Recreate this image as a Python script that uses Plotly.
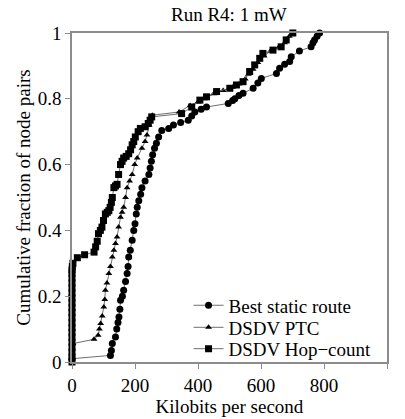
import plotly.graph_objects as go

# Best static route (circles)
static_x = [0, 122, 125, 128, 138, 142, 146, 149, 152, 154, 160, 164, 170, 175, 178, 180,
            185, 191, 196, 200, 204, 207, 212, 218, 222, 232, 244, 248, 252, 256, 262, 268,
            275, 285, 307, 322, 345, 369, 380, 390, 410, 427, 496, 510, 517, 530, 543, 575,
            590, 601, 649, 659, 675, 691, 696, 722, 759, 765, 770, 778, 786]
static_y = [0.01, 0.02, 0.035, 0.056, 0.076, 0.10, 0.12, 0.137, 0.16, 0.188, 0.20, 0.218,
            0.245, 0.269, 0.29, 0.319, 0.34, 0.37, 0.40, 0.42, 0.45, 0.47, 0.49, 0.51, 0.53,
            0.55, 0.57, 0.59, 0.61, 0.63, 0.65, 0.665, 0.684, 0.704, 0.71, 0.72, 0.728, 0.735,
            0.748, 0.76, 0.768, 0.775, 0.786, 0.795, 0.80, 0.81, 0.817, 0.832, 0.848, 0.862,
            0.877, 0.893, 0.905, 0.913, 0.928, 0.945, 0.958, 0.97, 0.979, 0.99, 1.0]

# DSDV PTC (triangles)
ptc_x = [0, 0, 3, 70, 83, 87, 91, 96, 101, 104, 106, 111, 117, 122, 128, 133, 138, 143,
         148, 154, 159, 164, 170, 175, 183, 191, 199, 207, 222, 232, 238, 245, 250, 255,
         340, 375, 400, 420, 450, 480, 510, 530, 550, 560, 575, 590, 610, 630, 655, 675, 690]
ptc_y = [0.02, 0.04, 0.056, 0.069, 0.081, 0.10, 0.117, 0.14, 0.167, 0.19, 0.218, 0.24,
         0.269, 0.29, 0.319, 0.34, 0.36, 0.38, 0.41, 0.44, 0.455, 0.47, 0.50, 0.53, 0.55,
         0.57, 0.60, 0.62, 0.65, 0.67, 0.69, 0.72, 0.74, 0.75, 0.76, 0.78, 0.79, 0.80,
         0.815, 0.825, 0.835, 0.845, 0.86, 0.875, 0.89, 0.91, 0.93, 0.945, 0.955, 0.97, 0.99]

# DSDV Hop-count (squares)
hop_x = [0, 0, 0, 0, 0, 0, 0, 0, 0, 0, 0, 0, 0, 0, 0, 0, 0, 0, 0, 0, 1, 3,
         17, 40, 70, 75, 80, 84, 90, 95, 100, 106, 112, 117, 121, 125, 128, 133, 138, 143,
         148, 154, 159, 164, 172, 180, 186, 191, 196, 201, 210, 217, 232, 242, 248, 253,
         348, 380, 406, 427, 459, 501, 522, 543, 564, 580, 596, 606, 638, 664, 680, 701]
hop_y = [0.0, 0.015, 0.03, 0.045, 0.06, 0.075, 0.09, 0.105, 0.12, 0.135, 0.15, 0.165,
         0.18, 0.195, 0.21, 0.225, 0.24, 0.255, 0.27, 0.28, 0.29, 0.30,
         0.317, 0.326, 0.334, 0.35, 0.367, 0.39, 0.40, 0.41, 0.43, 0.45, 0.455, 0.46, 0.47,
         0.485, 0.50, 0.53, 0.535, 0.54, 0.57, 0.60, 0.61, 0.62, 0.625, 0.633, 0.645, 0.66,
         0.67, 0.684, 0.70, 0.71, 0.715, 0.725, 0.735, 0.745, 0.755, 0.775, 0.796, 0.806,
         0.822, 0.832, 0.842, 0.852, 0.883, 0.903, 0.923, 0.938, 0.948, 0.958, 0.979, 1.0]

x_ticks = [0, 200, 400, 600, 800, 1000]
y_ticks = [0, 0.2, 0.4, 0.6, 0.8, 1]
y_labels = ["0", "0.2", "0.4", "0.6", "0.8", "1"]

FONT = "Liberation Serif, Times New Roman, serif"
LINE = dict(color="#6e6e6e", width=1)
FS = 19

fig = go.Figure()
fig.add_trace(go.Scatter(x=static_x, y=static_y, name="Best static route", mode="lines+markers",
                         line=LINE, marker=dict(symbol="circle", size=7, color="black"),
                         cliponaxis=False, legend="legend", showlegend=True))
fig.add_trace(go.Scatter(x=ptc_x, y=ptc_y, name="DSDV PTC", mode="lines+markers",
                         line=LINE, marker=dict(symbol="triangle-up", size=6, color="black"),
                         cliponaxis=False, legend="legend2", showlegend=True))
fig.add_trace(go.Scatter(x=hop_x, y=hop_y, name="DSDV Hop\u2212count", mode="lines+markers",
                         line=LINE, marker=dict(symbol="square", size=7, color="black"),
                         cliponaxis=False, legend="legend3", showlegend=True))

axis_common = dict(showgrid=False, zeroline=False, showline=True, linecolor="#8c8c8c",
                   linewidth=1.5, mirror=True, ticks="outside", ticklen=5, tickcolor="#8c8c8c",
                   automargin=False,
                   tickfont=dict(size=FS, color="black", family=FONT),
                   title_font=dict(size=FS, color="black", family=FONT))

fig.update_xaxes(range=[0, 1000], tickvals=x_ticks, title_text="Kilobits per second",
                 title_standoff=4, **axis_common)
fig.update_yaxes(range=[0, 1], tickvals=y_ticks, ticktext=y_labels,
                 title_text="Cumulative fraction of node pairs", title_standoff=2, **axis_common)

legend_common = dict(x=0.37, xanchor="left", yanchor="middle", bgcolor="rgba(0,0,0,0)",
                     font=dict(size=FS, color="black", family=FONT), itemwidth=30)

fig.update_layout(
    width=405, height=419,
    margin=dict(l=72, r=18, t=33, b=57),
    paper_bgcolor="white", plot_bgcolor="white",
    font=dict(family=FONT, color="black"),
    showlegend=True,
    title=dict(text="Run R4: 1 mW", x=0.565, xanchor="center", y=0.966, yanchor="middle",
               font=dict(size=FS, color="black", family=FONT)),
    legend=dict(y=0.172, **legend_common),
    legend2=dict(y=0.105, **legend_common),
    legend3=dict(y=0.040, **legend_common),
)

fig.write_html("out.html", config={"displayModeBar": False},
               post_script="document.body.style.margin='0';")
